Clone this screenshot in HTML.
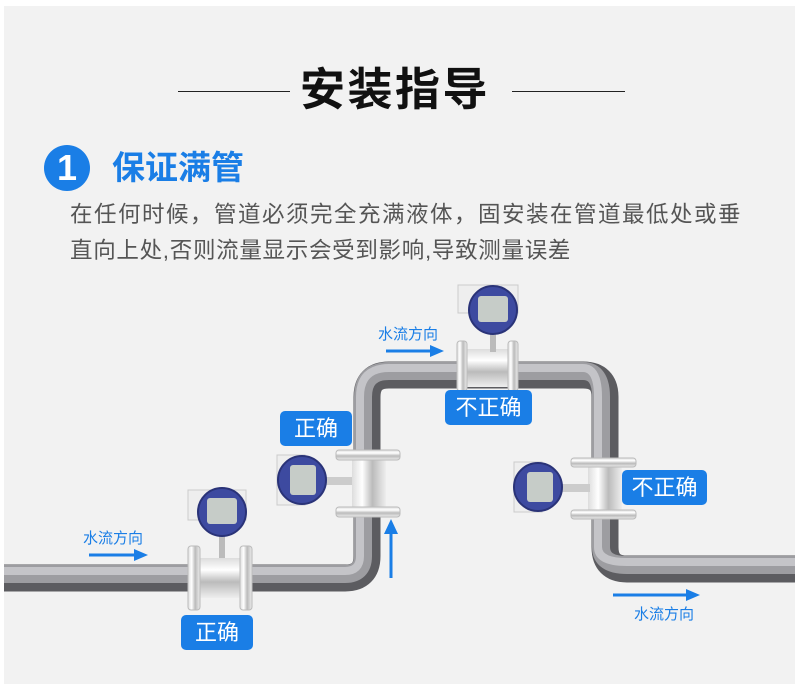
<!DOCTYPE html>
<html><head><meta charset="utf-8"><style>
body{margin:0;width:800px;height:687px;background:#fff;overflow:hidden;font-family:"Liberation Sans","Noto Sans CJK SC",sans-serif;}
#bg{position:absolute;left:4px;top:6px;width:791px;height:678px;background:#f2f2f2;}
.t{position:absolute;white-space:nowrap;}
.lab{position:absolute;background:#1a7ee6;color:#fff;border-radius:5px;font-size:22px;text-align:center;line-height:35px;height:35px;}
</style></head><body>
<div id="bg"></div>
<div style="position:absolute;left:178px;top:91px;width:112px;height:1px;background:#222"></div>
<div style="position:absolute;left:512px;top:91px;width:113px;height:1px;background:#222"></div>
<div class="t" style="left:300px;top:62px;font-size:45px;font-weight:bold;color:#111;letter-spacing:2.5px;line-height:56px">安装指导</div>
<div style="position:absolute;left:44px;top:145px;width:46px;height:46px;border-radius:50%;background:#1a7ee6;color:#fff;font-weight:bold;font-size:36px;text-align:center;line-height:46px">1</div>
<div class="t" style="left:112px;top:147px;font-size:33px;font-weight:bold;color:#1a7ee6;line-height:42px">保证满管</div>
<div class="t" style="left:70px;top:200px;font-size:22.5px;color:#555;line-height:30px;letter-spacing:1.5px">在任何时候，管道必须完全充满液体，固安装在管道最低处或垂</div>
<div class="t" style="left:70px;top:236px;font-size:22.5px;color:#555;line-height:30px;letter-spacing:0.7px">直向上处,否则流量显示会受到影响,导致测量误差</div>
<svg width="800" height="687" style="position:absolute;left:0;top:0">
<defs>
<linearGradient id="met" x1="0" y1="0" x2="0" y2="1"><stop offset="0" stop-color="#ddd"/><stop offset="0.3" stop-color="#fff"/><stop offset="0.6" stop-color="#bbb"/><stop offset="1" stop-color="#eee"/></linearGradient>
<linearGradient id="metv" x1="0" y1="0" x2="1" y2="0"><stop offset="0" stop-color="#ddd"/><stop offset="0.3" stop-color="#fff"/><stop offset="0.6" stop-color="#bbb"/><stop offset="1" stop-color="#eee"/></linearGradient>
</defs>
<path d="M4,578 H345 Q367,578 367,556 V397 Q367,375 389,375 H583 Q605,375 605,397 V547 Q605,569 627,569 H795" fill="none" stroke="#5c5c60" stroke-width="27"/>
<path d="M4,574 H345 Q363,574 363,556 V397 Q363,371 389,371 H583 Q601,371 601,397 V547 Q601,565 627,565 H795" fill="none" stroke="#9d9da1" stroke-width="18"/>
<path d="M4,571 H345 Q360,571 360,556 V397 Q360,368 389,368 H583 Q598,368 598,397 V547 Q598,562 627,562 H795" fill="none" stroke="#c4c4c8" stroke-width="8"/>
<!-- meter 1 -->
<g>
<rect x="196" y="558" width="48" height="40" fill="url(#met)"/>
<rect x="188" y="546" width="12" height="64" rx="3" fill="url(#metv)" stroke="#bbb"/>
<rect x="240" y="546" width="12" height="64" rx="3" fill="url(#metv)" stroke="#bbb"/>
<rect x="219" y="532" width="6" height="26" fill="#bbb"/>
<rect x="188" y="490" width="58" height="30" fill="#eee" stroke="#ccc"/>
<circle cx="222" cy="512" r="24" fill="#3d4aa0" stroke="#2a3378" stroke-width="2"/>
<rect x="207" y="498" width="30" height="26" rx="3" fill="#c6ccc8"/>
</g>
<!-- meter 2 top -->
<g>
<rect x="462" y="349" width="50" height="38" fill="url(#met)"/>
<rect x="457" y="341" width="10" height="50" rx="3" fill="url(#metv)" stroke="#bbb"/>
<rect x="508" y="341" width="10" height="50" rx="3" fill="url(#metv)" stroke="#bbb"/>
<rect x="490" y="334" width="6" height="18" fill="#bbb"/>
<rect x="458" y="285" width="60" height="28" fill="#eee" stroke="#ccc"/>
<circle cx="493" cy="310" r="24" fill="#3d4aa0" stroke="#2a3378" stroke-width="2"/>
<rect x="478" y="296" width="30" height="26" rx="3" fill="#c6ccc8"/>
</g>
<!-- meter 3 left vertical -->
<g>
<rect x="352" y="455" width="34" height="58" fill="url(#metv)"/>
<rect x="336" y="450" width="64" height="10" rx="3" fill="url(#met)" stroke="#bbb"/>
<rect x="336" y="507" width="64" height="10" rx="3" fill="url(#met)" stroke="#bbb"/>
<rect x="322" y="477" width="30" height="8" fill="#ccc"/>
<rect x="277" y="455" width="28" height="50" fill="#eee" stroke="#ccc"/>
<circle cx="302" cy="480" r="24" fill="#3d4aa0" stroke="#2a3378" stroke-width="2"/>
<rect x="290" y="465" width="26" height="30" rx="3" fill="#c6ccc8"/>
</g>
<!-- meter 4 right -->
<g>
<rect x="588" y="462" width="34" height="52" fill="url(#metv)"/>
<rect x="571" y="458" width="65" height="9" rx="3" fill="url(#met)" stroke="#bbb"/>
<rect x="571" y="510" width="65" height="9" rx="3" fill="url(#met)" stroke="#bbb"/>
<rect x="560" y="484" width="30" height="8" fill="#ccc"/>
<rect x="514" y="462" width="28" height="50" fill="#eee" stroke="#ccc"/>
<circle cx="538" cy="487" r="24" fill="#3d4aa0" stroke="#2a3378" stroke-width="2"/>
<rect x="527" y="472" width="26" height="30" rx="3" fill="#c6ccc8"/>
</g>
<!-- arrows -->
<g fill="#1a7ee6" stroke="#1a7ee6">
<line x1="89" y1="555" x2="136" y2="555" stroke-width="3"/><polygon points="134,549 148,555 134,561" stroke="none"/>
<line x1="386" y1="351" x2="432" y2="351" stroke-width="3"/><polygon points="430,345 444,351 430,357" stroke="none"/>
<line x1="391" y1="578" x2="391" y2="532" stroke-width="3"/><polygon points="384,534 391,519 398,534" stroke="none"/>
<line x1="613" y1="595" x2="688" y2="595" stroke-width="3"/><polygon points="686,589 700,595 686,601" stroke="none"/>
</g>
<g font-family="Liberation Sans,Noto Sans CJK SC,sans-serif" font-size="15" fill="#1a7ee6">
<text x="83" y="543">水流方向</text>
<text x="378" y="339">水流方向</text>
<text x="634" y="619">水流方向</text>
</g>
</svg>
<div class="lab" style="left:280px;top:411px;width:72px">正确</div>
<div class="lab" style="left:445px;top:390px;width:87px">不正确</div>
<div class="lab" style="left:622px;top:470px;width:85px">不正确</div>
<div class="lab" style="left:181px;top:615px;width:72px">正确</div>
</body></html>
